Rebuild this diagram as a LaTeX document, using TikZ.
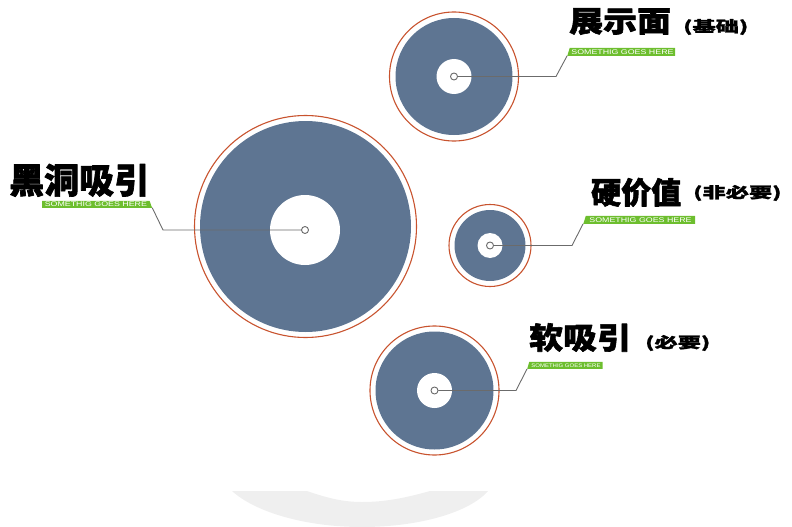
\documentclass[tikz,border=0pt]{standalone}
\usepackage{fontspec}
\setmainfont{Liberation Sans}
\newfontfamily\cjk{Noto Sans CJK SC}
\usetikzlibrary{shapes.geometric}
\definecolor{diskblue}{HTML}{5E7592}
\definecolor{rimred}{HTML}{C8532E}
\definecolor{taggreen}{HTML}{6DBE2E}
\definecolor{leadgray}{HTML}{6B6B6B}
\definecolor{shadowgray}{HTML}{EFEFEF}
\newcommand\cjkhead[3]{\cjk\bfseries\addfontfeature{FakeStretch=#2,FakeBold=#3}\fontsize{#1}{#1}\selectfont}
\newcommand\tagfont[2]{\addfontfeature{FakeStretch=#2}\fontsize{#1}{#1}\selectfont}
\begin{document}
\begin{tikzpicture}[x=1pt,y=-1pt, line join=round, line cap=round,
		hub/.style={circle,draw=leadgray,fill=white,line width=.9pt,minimum size=7pt,inner sep=0pt},
		lead/.style={draw=leadgray,line width=.9pt},
		tagbar/.style={trapezium,trapezium stretches=true,fill=taggreen,text=white,inner sep=0pt,minimum height=7.5pt,anchor=bottom left corner,font=\tagfont{6.8}{1.3}},
		tagL/.style={tagbar,trapezium left angle=90,trapezium right angle=63.4},
		tagR/.style={tagbar,trapezium left angle=63.4,trapezium right angle=90},
		title/.style={inner sep=0pt,anchor=south west},
		note/.style={inner sep=0pt,anchor=west}]
	\useasboundingbox (0,0) rectangle (792,527);
	\fill[shadowgray] (232,491) -- (307,491) .. controls (330,499) and (345,502) .. (362,502) .. controls (385,502) and (405,498) .. (430,491) -- (488,491) .. controls (470,512) and (420,527) .. (362,527) .. controls (305,527) and (255,512) .. (232,491) -- cycle;
	\foreach \cx/\cy/\ro/\rb in {305.5/226.5/111/105.5, 454/76.5/64.5/58.5, 490/245.5/41/35.5, 434.5/390.5/64.5/59}{
		\fill[diskblue] (\cx,\cy) circle[radius=\rb pt];
		\draw[rimred,line width=1.1pt] (\cx,\cy) circle[radius=\ro pt];
	}
	\foreach \n/\hx/\hy/\rw in {1/305/230/35, 2/454/76.5/17.5, 3/490/245.5/12.5, 4/434.5/390.5/17.5}{
		\fill[white] (\hx,\hy) circle[radius=\rw pt];
		\node[hub] (hub\n) at (\hx,\hy) {};
	}
	\node[tagL,minimum width=110pt,minimum height=7pt] (tag1) at (42,208) {SOMETHIG GOES HERE};
	\node[tagR,minimum width=108pt,minimum height=8pt] (tag2) at (567,56) {SOMETHIG GOES HERE};
	\node[tagR,minimum width=112pt,minimum height=8pt] (tag3) at (583,224) {SOMETHIG GOES HERE};
	\node[tagR,minimum width=76pt,minimum height=7pt,font=\tagfont{5.2}{1.15}] (tag4) at (527,369) {SOMETHIG GOES HERE};
	\path 
	(163,230)coordinate (bend1)
	(556,76.5)coordinate (bend2)
	(572,245.5)coordinate (bend3)
	(516,390.5)coordinate (bend4)
	;
	\draw[lead] (hub1) -- (bend1) -- (tag1.bottom right corner);
	\foreach \n in {2,3,4}{
		\draw[lead] (hub\n) -- (bend\n) -- (tag\n.bottom left corner);
	}
	\node[title,font=\cjkhead{35}{1}{2}] (name1) at (9,197) {黑洞吸引};
	\node[title,font=\cjkhead{29}{1.17}{2}] (name2) at (569,35) {展示面};
	\node[title,font=\cjkhead{30}{1}{2}] (name3) at (591,207) {硬价值};
	\node[title,font=\cjkhead{30}{1.13}{2}] (name4) at (529,352) {软吸引};
	\node[note,font=\cjkhead{15}{1.55}{1.5}] (note2) at (683,27) {(基础)};
	\node[note,font=\cjkhead{15}{1.55}{1.5}] (note3) at (693,193) {(非必要)};
	\node[note,font=\cjkhead{15}{1.55}{1.5}] (note4) at (645,343) {(必要)};
\end{tikzpicture}
\end{document}
